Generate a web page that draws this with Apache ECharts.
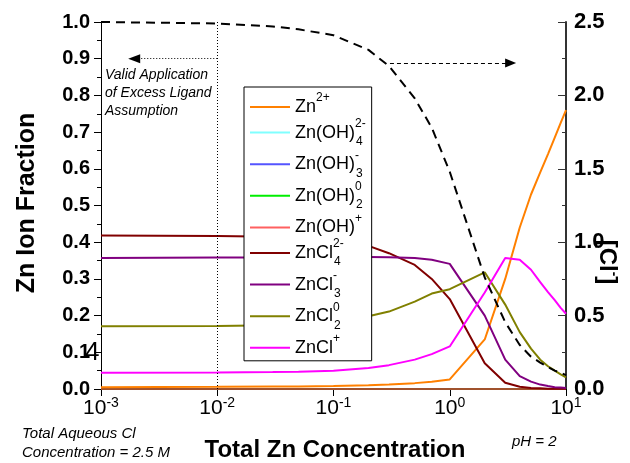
<!DOCTYPE html>
<html>
<head>
<meta charset="utf-8">
<script src="https://cdn.jsdelivr.net/npm/echarts@6/dist/echarts.min.js"></script>
<style>
  html, body { margin: 0; padding: 0; background: #fff; }
  #chart { width: 630px; height: 463px; }
</style>
</head>
<body>
<div id="chart"></div>
<script>
// total Zn concentration (M), log x axis
const conc = [0.001, 0.01, 0.03, 0.05, 0.1, 0.2, 0.3, 0.5, 0.7, 1, 2, 3, 4, 5, 6, 7, 8, 9, 10];

// Zn ion fractions (left axis)
const zn2 = [0.005, 0.006, 0.007, 0.007, 0.008, 0.010, 0.012, 0.016, 0.020, 0.026, 0.135, 0.30, 0.44, 0.53, 0.59, 0.64, 0.685, 0.725, 0.76];
const znOH4 = [0, 0, 0, 0, 0, 0, 0, 0, 0, 0, 0, 0, 0, 0, 0, 0, 0, 0, 0];
const znOH3 = [0, 0, 0, 0, 0, 0, 0, 0, 0, 0, 0, 0, 0, 0, 0, 0, 0, 0, 0];
const znOH2 = [0, 0, 0, 0, 0, 0, 0, 0, 0, 0, 0, 0, 0, 0, 0, 0, 0, 0, 0];
const znOH1 = [0, 0, 0, 0, 0, 0, 0, 0, 0, 0, 0, 0, 0, 0, 0, 0, 0, 0, 0];
const znCl4 = [0.418, 0.417, 0.415, 0.412, 0.405, 0.39, 0.37, 0.338, 0.30, 0.245, 0.07, 0.017, 0.006, 0.003, 0.002, 0.001, 0.001, 0.001, 0.001];
const znCl3 = [0.357, 0.358, 0.358, 0.359, 0.36, 0.36, 0.359, 0.357, 0.352, 0.341, 0.20, 0.08, 0.035, 0.02, 0.012, 0.008, 0.005, 0.004, 0.003];
const znCl2 = [0.171, 0.172, 0.174, 0.177, 0.185, 0.198, 0.211, 0.238, 0.26, 0.272, 0.318, 0.23, 0.155, 0.11, 0.08, 0.062, 0.05, 0.04, 0.032];
const znCl1 = [0.044, 0.045, 0.046, 0.047, 0.05, 0.057, 0.065, 0.08, 0.095, 0.116, 0.263, 0.357, 0.352, 0.325, 0.291, 0.264, 0.242, 0.221, 0.205];

// free chloride [Cl-] (right axis)
const chloride = [2.50, 2.49, 2.47, 2.45, 2.41, 2.31, 2.20, 1.98, 1.78, 1.48, 0.76, 0.455, 0.30, 0.22, 0.18, 0.15, 0.125, 0.11, 0.095];

const leftTicks = [0, 1, 0.1];
const rightTicks = [0, 2.5, 0.5];

const FONT = "'Liberation Sans', Arial, sans-serif";

const chart = echarts.init(document.getElementById("chart"));

function pair(a) {
  return conc.map((x, i) => [x, a[i]]);
}

function lineSeries(name, data, color) {
  return {
    name: name,
    type: "line",
    data: pair(data),
    symbol: "none",
    lineStyle: { color: color, width: 2 },
    itemStyle: { color: color },
    z: 3
  };
}

const legendText = {
  "Zn2+": "{t|Zn}{p|2+}",
  "Zn(OH)4": "{t|Zn(OH)}{pz|2-}{b|4}",
  "Zn(OH)3": "{t|Zn(OH)}{pz|-}{b|3}",
  "Zn(OH)2": "{t|Zn(OH)}{pz|0}{b|2}",
  "Zn(OH)+": "{t|Zn(OH)}{p|+}",
  "ZnCl4": "{t|ZnCl}{pz|2-}{b|4}",
  "ZnCl3": "{t|ZnCl}{pz|-}{b|3}",
  "ZnCl2": "{t|ZnCl}{pz|0}{b|2}",
  "ZnCl+": "{t|ZnCl}{p|+}"
};

const series = [
  lineSeries("Zn(OH)4", znOH4, "#80ffff"),
  lineSeries("Zn(OH)3", znOH3, "#5555ff"),
  lineSeries("Zn(OH)2", znOH2, "#00ee00"),
  lineSeries("Zn(OH)+", znOH1, "#a0522d"),
  lineSeries("Zn2+", zn2, "#ff8000"),
  lineSeries("ZnCl4", znCl4, "#800000"),
  lineSeries("ZnCl3", znCl3, "#800080"),
  lineSeries("ZnCl2", znCl2, "#808000"),
  lineSeries("ZnCl+", znCl1, "#ff00ff"),
  {
    name: "Cl",
    type: "line",
    yAxisIndex: 1,
    data: pair(chloride),
    symbol: "none",
    lineStyle: { color: "#000", width: 2, type: [9, 6] },
    z: 4
  }
];
// legend swatch colour for Zn(OH)+ differs from the brownish line drawn on the baseline
series[3].itemStyle.color = "#ff6060";

// guide lines and arrows
series[4].markLine = {
  silent: true,
  animation: false,
  label: { show: false },
  symbol: "none",
  data: [
    [
      { coord: [0.01, 0], lineStyle: { color: "#000", width: 1, type: [1, 2] } },
      { coord: [0.01, 1] }
    ],
    [
      { coord: [0.01, 0.9], symbol: "none", lineStyle: { color: "#000", width: 1, type: [1, 2] } },
      { coord: [0.00193, 0.9], symbol: "triangle", symbolSize: [9, 12] }
    ],
    [
      { coord: [0.306, 0.888], symbol: "none", lineStyle: { color: "#000", width: 1, type: [4, 3] } },
      { coord: [3.34, 0.888], symbol: "triangle", symbolSize: [9, 11] }
    ]
  ]
};

const option = {
  animation: false,
  backgroundColor: "#fff",
  grid: { left: 101, right: 64, top: 22, bottom: 74 },
  legend: {
    data: Object.keys(legendText),
    orient: "vertical",
    left: 244,
    top: 87,
    padding: [5, 6, 4, 6],
    itemGap: 1.6,
    itemWidth: 40,
    itemHeight: 2,
    icon: "rect",
    backgroundColor: "#fff",
    borderColor: "#000",
    borderWidth: 1,
    selectedMode: false,
    formatter: name => legendText[name],
    textStyle: {
      rich: {
        t: { fontFamily: FONT, fontSize: 18, lineHeight: 30, color: "#000" },
        p: { fontFamily: FONT, fontSize: 12, lineHeight: 14, verticalAlign: "top", color: "#000" },
        pz: { fontFamily: FONT, fontSize: 12, lineHeight: 14, verticalAlign: "top", width: 1, color: "#000" },
        b: { fontFamily: FONT, fontSize: 12, lineHeight: 12, verticalAlign: "bottom", color: "#000" }
      }
    }
  },
  xAxis: [
    {
      type: "log",
      logBase: 10,
      min: 0.001,
      max: 10,
      axisLine: { lineStyle: { color: "#000", width: 1 } },
      axisTick: { length: 6, lineStyle: { color: "#000" } },
      minorTick: { show: false },
      splitLine: { show: false },
      axisLabel: {
        margin: 7,
        formatter: v => "{a|10}{s|" + Math.round(Math.log10(v)) + "}",
        rich: {
          a: { fontFamily: FONT, fontSize: 21, lineHeight: 24, color: "#000" },
          s: { fontFamily: FONT, fontSize: 14, lineHeight: 14, verticalAlign: "top", color: "#000" }
        }
      }
    },
    {
      type: "log",
      logBase: 10,
      min: 0.001,
      max: 10,
      position: "top",
      axisLine: { lineStyle: { color: "#000", width: 1 } },
      axisTick: { inside: true, length: 7, lineStyle: { color: "#000" } },
      axisLabel: { show: false },
      splitLine: { show: false }
    }
  ],
  yAxis: [
    {
      type: "value",
      min: leftTicks[0],
      max: leftTicks[1],
      interval: leftTicks[2],
      axisLine: { show: true, lineStyle: { color: "#000", width: 1 } },
      axisTick: { show: true, length: 7, lineStyle: { color: "#000" } },
      minorTick: { show: true, splitNumber: 2, length: 4, lineStyle: { color: "#000" } },
      splitLine: { show: false },
      axisLabel: {
        margin: 11,
        fontFamily: FONT,
        fontSize: 20,
        fontWeight: "bold",
        color: "#000",
        formatter: v => v.toFixed(1)
      }
    },
    {
      type: "value",
      min: rightTicks[0],
      max: rightTicks[1],
      interval: rightTicks[2],
      position: "right",
      axisLine: { show: true, lineStyle: { color: "#333", width: 2 } },
      axisTick: { show: true, inside: true, length: 8, lineStyle: { color: "#333" } },
      minorTick: { show: true, splitNumber: 2, length: 4, lineStyle: { color: "#333" } },
      splitLine: { show: false },
      axisLabel: {
        margin: 8,
        fontFamily: FONT,
        fontSize: 22,
        fontWeight: "bold",
        color: "#000",
        formatter: v => v.toFixed(1)
      }
    }
  ],
  graphic: [
    {
      type: "text",
      x: 27, y: 203,
      rotation: Math.PI / 2,
      style: { text: "Zn Ion Fraction", fontFamily: FONT, fontSize: 25, fontWeight: "bold", fill: "#000", align: "center", verticalAlign: "middle" }
    },
    {
      type: "text",
      x: 335, y: 450,
      style: { text: "Total Zn Concentration", fontFamily: FONT, fontSize: 24, fontWeight: "bold", fill: "#000", align: "center", verticalAlign: "middle" }
    },
    {
      type: "text",
      x: 607, y: 262,
      rotation: -Math.PI / 2,
      style: {
        text: "{m|[Cl}{s|-}{m|]}",
        align: "center",
        verticalAlign: "middle",
        rich: {
          m: { fontFamily: FONT, fontSize: 24, fontWeight: "bold", lineHeight: 28, fill: "#000" },
          s: { fontFamily: FONT, fontSize: 14, fontWeight: "bold", lineHeight: 14, verticalAlign: "top", fill: "#000" }
        }
      }
    },
    {
      type: "text",
      left: 105, top: 66,
      style: { text: "Valid Application\nof Excess Ligand\nAssumption", fontFamily: FONT, fontSize: 14, fontStyle: "italic", lineHeight: 18, fill: "#000" }
    },
    {
      type: "text",
      left: 22, top: 424,
      style: { text: "Total Aqueous Cl\nConcentration = 2.5 M", fontFamily: FONT, fontSize: 15, fontStyle: "italic", lineHeight: 19, fill: "#000" }
    },
    {
      type: "text",
      left: 512, top: 434,
      style: { text: "pH = 2", fontFamily: FONT, fontSize: 15, fontStyle: "italic", fill: "#000" }
    },
    {
      type: "text",
      left: 85, top: 340,
      style: { text: "4", fontFamily: FONT, fontSize: 26, fill: "#000" }
    }
  ],
  series: series
};

chart.setOption(option);
</script>
</body>
</html>
